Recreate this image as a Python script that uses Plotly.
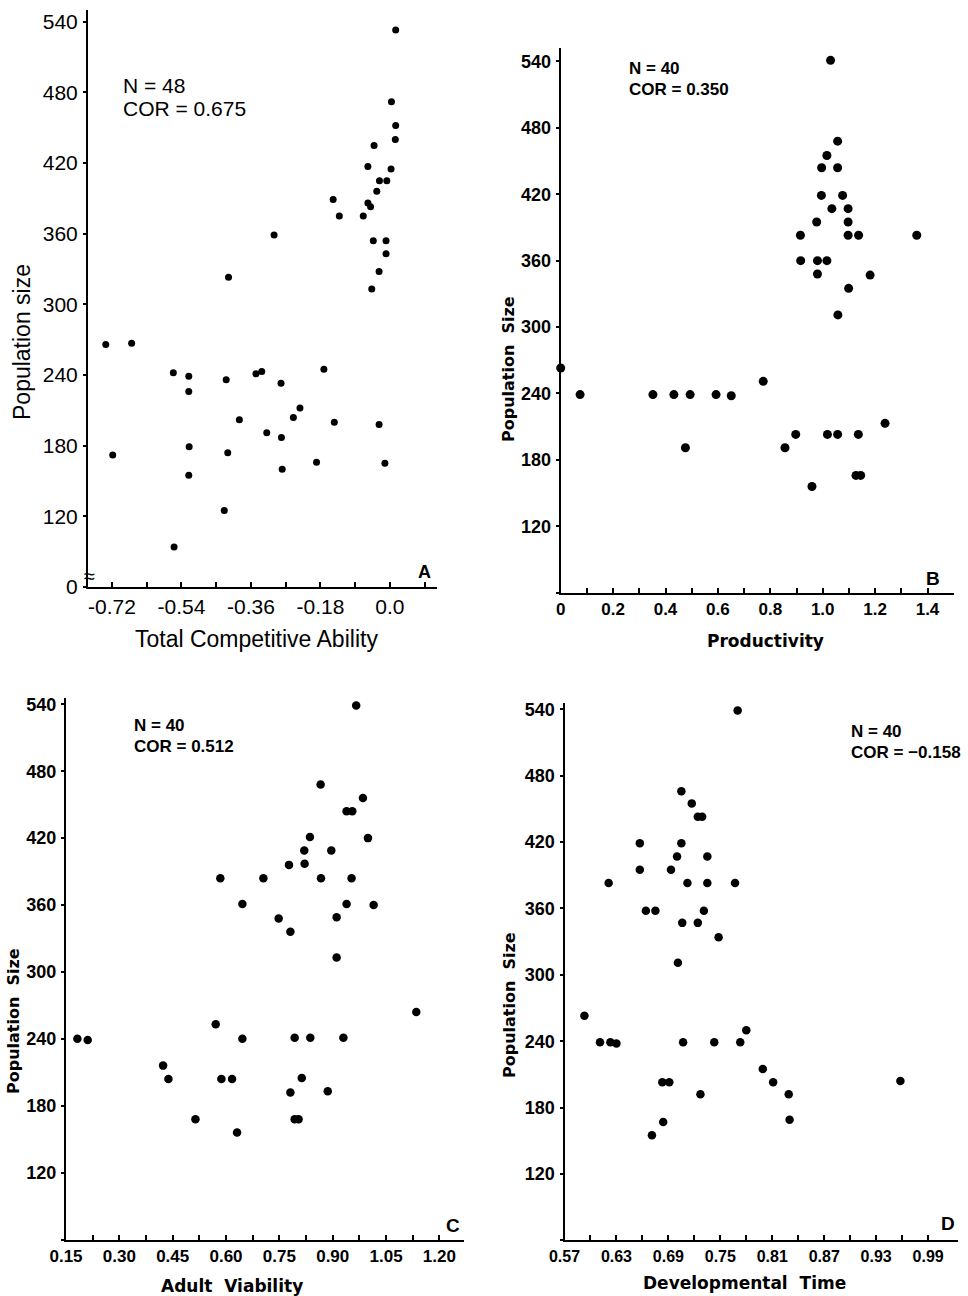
import plotly.graph_objects as go

W, H = 968, 1296

# ---------------- Data ----------------
# Panel A: Total Competitive Ability vs Population size (N=48)
a_x = [0.015, 0.004, 0.015, 0.014, -0.041, -0.057, 0.003, -0.027, -0.008, -0.034,
       -0.147, -0.057, -0.050, -0.131, -0.069, -0.300, -0.043, -0.010, -0.010, -0.418,
       -0.028, -0.047, -0.736, -0.669, -0.718, -0.561, -0.521, -0.521, -0.520, -0.521,
       -0.559, -0.424, -0.420, -0.429, -0.390, -0.347, -0.332, -0.319, -0.282, -0.281,
       -0.279, -0.250, -0.233, -0.171, -0.190, -0.144, -0.028, -0.013]
a_y = [533, 472, 452, 440, 435, 417, 415, 405, 405, 396,
       389, 386, 383, 375, 375, 359, 354, 354, 343, 323,
       328, 313, 266, 267, 172, 242, 239, 226, 179, 155,
       94, 236, 174, 125, 202, 241, 243, 191, 233, 187,
       160, 204, 212, 245, 166, 200, 198, 165]

# Panel B: Productivity vs Population Size (N=40)
b_x = [1.030, 1.057, 1.016, 0.996, 1.057, 0.995, 1.076, 1.035, 1.097, 0.977,
       1.097, 0.915, 1.097, 1.137, 1.359, 0.916, 0.980, 1.016, 0.980, 1.181,
       1.099, 1.058, 0.0, 0.074, 0.352, 0.432, 0.494, 0.593, 0.651, 0.773,
       0.476, 0.856, 0.897, 1.018, 1.057, 1.136, 1.238, 1.127, 1.145, 0.959]
b_y = [541, 468, 455, 444, 444, 419, 419, 407, 407, 395,
       395, 383, 383, 383, 383, 360, 360, 360, 348, 347,
       335, 311, 263, 239, 239, 239, 239, 239, 238, 251,
       191, 191, 203, 203, 203, 203, 213, 166, 166, 156]

# Panel C: Adult Viability vs Population Size (N=40)
c_x = [0.966, 0.866, 0.985, 0.939, 0.955, 0.836, 0.999, 0.820, 0.896, 0.777,
       0.821, 0.584, 0.705, 0.867, 0.953, 0.646, 0.939, 1.015, 0.748, 0.911,
       0.781, 0.911, 1.135, 0.182, 0.211, 0.571, 0.646, 0.793, 0.837, 0.930,
       0.423, 0.438, 0.587, 0.617, 0.813, 0.781, 0.886, 0.514, 0.793, 0.804, 0.631]
c_y = [539, 468, 456, 444, 444, 421, 420, 409, 409, 396,
       397, 384, 384, 384, 384, 361, 361, 360, 348, 349,
       336, 313, 264, 240, 239, 253, 240, 241, 241, 241,
       216, 204, 204, 204, 205, 192, 193, 168, 168, 168, 156]

# Panel D: Developmental Time vs Population Size (N=40)
d_x = [0.770, 0.705, 0.717, 0.724, 0.729, 0.657, 0.705, 0.700, 0.735, 0.657,
       0.693, 0.621, 0.712, 0.735, 0.767, 0.664, 0.675, 0.731, 0.706, 0.724,
       0.748, 0.701, 0.593, 0.611, 0.623, 0.630, 0.707, 0.743, 0.773, 0.780,
       0.799, 0.811, 0.829, 0.830, 0.958, 0.683, 0.691, 0.727, 0.684, 0.671]
d_y = [539, 466, 455, 443, 443, 419, 419, 407, 407, 395,
       395, 383, 383, 383, 383, 358, 358, 358, 347, 347,
       334, 311, 263, 239, 239, 238, 239, 239, 239, 250,
       215, 203, 192, 169, 204, 203, 203, 192, 167, 155]

# Tick values / labels
y_ticks = [60, 120, 180, 240, 300, 360, 420, 480, 540]
a_yticktext = ["0", "120", "180", "240", "300", "360", "420", "480", "540"]
bcd_yticktext = ["", "120", "180", "240", "300", "360", "420", "480", "540"]

a_xticks = [-0.72, -0.63, -0.54, -0.45, -0.36, -0.27, -0.18, -0.09, 0.0, 0.09]
a_xticktext = ["-0.72", "", "-0.54", "", "-0.36", "", "-0.18", "", "0.0", ""]
b_xticks = [0.0, 0.1, 0.2, 0.3, 0.4, 0.5, 0.6, 0.7, 0.8, 0.9, 1.0, 1.1, 1.2, 1.3, 1.4]
b_xticktext = ["0", "", "0.2", "", "0.4", "", "0.6", "", "0.8", "", "1.0", "", "1.2", "", "1.4"]
c_xticks = [0.15, 0.225, 0.30, 0.375, 0.45, 0.525, 0.60, 0.675, 0.75, 0.825, 0.90, 0.975, 1.05, 1.125, 1.20]
c_xticktext = ["0.15", "", "0.30", "", "0.45", "", "0.60", "", "0.75", "", "0.90", "", "1.05", "", "1.20"]
d_xticks = [0.57, 0.60, 0.63, 0.66, 0.69, 0.72, 0.75, 0.78, 0.81, 0.84, 0.87, 0.90, 0.93, 0.96, 0.99]
d_xticktext = ["0.57", "", "0.63", "", "0.69", "", "0.75", "", "0.81", "", "0.87", "", "0.93", "", "0.99"]

# ---------------- Figure ----------------
FONT_A = "Liberation Sans"
FONT_B = "Liberation Sans"
FONT_T = "DejaVu Sans"


def dx(l, r):
    return [l / W, r / W]


def dy(top, bottom):
    return [1 - bottom / H, 1 - top / H]


fig = go.Figure()
panels = [
    ("", a_x, a_y, 7),
    ("2", b_x, b_y, 9),
    ("3", c_x, c_y, 8.5),
    ("4", d_x, d_y, 8.5),
]
for suf, xs, ys, ms in panels:
    fig.add_trace(go.Scatter(x=xs, y=ys, mode="markers", xaxis="x" + suf, yaxis="y" + suf,
                             marker=dict(color="black", size=ms, line=dict(width=0)),
                             cliponaxis=False, showlegend=False, hoverinfo="skip"))


def xax(domain, rng, anchor, tv, tt, fsize, weight="normal"):
    return dict(domain=domain, range=rng, anchor=anchor, showgrid=False, zeroline=False,
                automargin=False,
                showline=True, linecolor="black", linewidth=2, ticks="inside", ticklen=5,
                tickwidth=1.5, tickcolor="black", tickvals=tv, ticktext=tt,
                tickfont=dict(family=FONT_B, size=fsize, color="black", weight=weight))


def yax(domain, rng, anchor, tt, fsize, weight="normal"):
    return dict(domain=domain, range=rng, anchor=anchor, showgrid=False, zeroline=False,
                automargin=False,
                showline=True, linecolor="black", linewidth=2, ticks="outside", ticklen=3,
                tickwidth=1.5, tickcolor="black", tickvals=y_ticks, ticktext=tt,
                ticklabelstandoff=1,
                tickfont=dict(family=FONT_B, size=fsize, color="black", weight=weight))


layout = dict(
    template="none",
    width=W, height=H, margin=dict(l=0, r=0, t=0, b=0, pad=0, autoexpand=False),
    paper_bgcolor="white", plot_bgcolor="white", showlegend=False,
    xaxis=xax(dx(88, 437), [-0.782, 0.122], "y", a_xticks, a_xticktext, 21),
    yaxis=yax(dy(10, 587), [60, 550], "x", a_yticktext, 21),
    xaxis2=xax(dx(560.7, 953.7), [0, 1.5], "y2", b_xticks, b_xticktext, 17, "bold"),
    yaxis2=yax(dy(48.2, 592.7), [60, 552], "x2", bcd_yticktext, 18, "bold"),
    xaxis3=xax(dx(66, 464.3), [0.15, 1.27], "y3", c_xticks, c_xticktext, 17, "bold"),
    yaxis3=yax(dy(697.6, 1239.6), [60, 546], "x3", bcd_yticktext, 18, "bold"),
    xaxis4=xax(dx(564.5, 958.4), [0.57, 1.025], "y4", d_xticks, d_xticktext, 16, "bold"),
    yaxis4=yax(dy(702.7, 1240.4), [60, 546], "x4", bcd_yticktext, 18, "bold"),
)
fig.update_layout(**layout)


def ann(text, px, py, size, family, weight="normal", xanchor="center", yanchor="middle", angle=0):
    fig.add_annotation(text=text, x=px / W, y=1 - py / H, xref="paper", yref="paper",
                       showarrow=False, xanchor=xanchor, yanchor=yanchor, textangle=angle,
                       font=dict(family=family, size=size, color="black", weight=weight))


# Axis titles
ann("Population size", 22, 342, 23, FONT_A, angle=-90)
ann("Total Competitive Ability", 256, 639, 23, FONT_A)
ann("Population\u00a0\u00a0Size", 508, 369, 16, FONT_T, "bold", angle=-90)
ann("Productivity", 765, 641, 17, FONT_T, "bold")
ann("Population\u00a0\u00a0Size", 13, 1021, 16, FONT_T, "bold", angle=-90)
ann("Adult\u00a0\u00a0Viability", 232, 1286, 17, FONT_T, "bold")
ann("Population\u00a0\u00a0Size", 510, 1005, 16, FONT_T, "bold", angle=-90)
ann("Developmental\u00a0\u00a0Time", 744, 1283, 17, FONT_T, "bold")

# N / COR annotations
ann("N = 48", 121, 85, 21, FONT_A, xanchor="left")
ann("COR = 0.675", 121, 108, 21, FONT_A, xanchor="left")
ann("N = 40", 627, 69, 17, FONT_B, "bold", xanchor="left")
ann("COR = 0.350", 627, 90, 17, FONT_B, "bold", xanchor="left")
ann("N = 40", 132, 725, 17, FONT_B, "bold", xanchor="left")
ann("COR = 0.512", 132, 746, 17, FONT_B, "bold", xanchor="left")
ann("N = 40", 849, 731, 17, FONT_B, "bold", xanchor="left")
ann("COR = \u22120.158", 849, 752, 17, FONT_B, "bold", xanchor="left")

# Panel letters
ann("A", 424, 572, 18, FONT_B, "bold")
ann("B", 933, 578, 19, FONT_B, "bold")
ann("C", 453, 1225, 19, FONT_B, "bold")
ann("D", 948, 1223, 19, FONT_B, "bold")

# Axis break mark on panel A's y axis
ann("\u2248", 89, 576, 20, FONT_A)

fig.write_html("out.html", config={"displayModeBar": False},
               post_script="document.body.style.margin='0';document.body.style.overflow='hidden';")
